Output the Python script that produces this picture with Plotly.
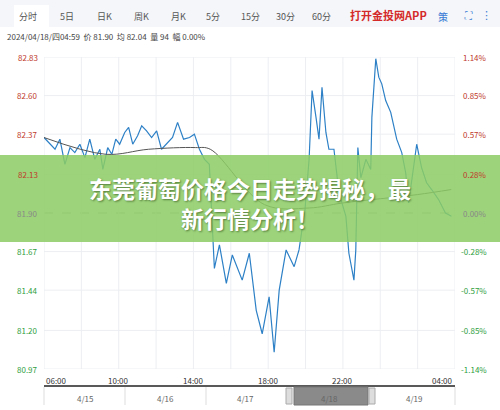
import plotly.graph_objects as go

hours = [0,0.32,0.59,0.85,1.12,1.39,1.65,1.92,2.19,2.45,2.72,2.99,3.15,3.41,3.63,3.84,4.05,4.32,4.53,4.75,5.01,5.23,5.49,5.76,6.03,6.29,6.61,6.88,7.15,7.47,7.79,8.05,8.32,8.59,8.85,8.96,9.12,9.39,9.76,10.08,10.61,10.99,11.36,11.68,12.05,12.32,12.59,12.96,13.39,13.65,13.97,14.19,14.35,14.56,14.72,14.88,15.09,15.25,15.52,15.79,16.16,16.32,16.59,16.69,16.80,16.96,17.23,17.49,17.55,17.76,17.92,18.08,18.29,18.56,18.72,18.88,19.15,19.36,19.52,19.68,19.95,20.21,20.48,20.75,21.12,21.49,21.81]
price = [82.35,82.31,82.28,82.34,82.19,82.29,82.26,82.31,82.23,82.34,82.22,82.28,82.16,82.29,82.25,82.34,82.31,82.38,82.41,82.31,82.36,82.42,82.39,82.35,82.39,82.28,82.32,82.35,82.44,82.34,82.35,82.37,82.28,82.22,82.19,81.95,81.57,81.71,81.48,81.65,81.50,81.66,81.32,81.18,81.40,81.07,81.44,81.68,81.58,81.68,81.92,82.22,82.63,82.47,82.34,82.65,82.38,82.28,82.28,82.02,81.88,81.66,81.50,81.68,82.29,82.11,82.22,82.16,82.47,82.82,82.71,82.67,82.57,82.50,82.41,82.34,82.26,82.14,81.96,82.08,82.31,82.17,82.08,82.04,81.98,81.90,81.88]
avg_hours = [0,3.3,5.6,8.1,8.9,11.8,14.2,16.0,20.0,21.8]
avg_price = [82.35,82.25,82.28,82.29,82.28,81.95,81.93,81.96,82.01,82.04]
y_ticks = [82.83,82.60,82.37,82.13,81.90,81.67,81.44,81.20,80.97]
pct_ticks = ["1.14%","0.85%","0.57%","0.28%","0.00%","-0.28%","-0.57%","-0.85%","-1.14%"]
x_ticks = [0,4,8,12,16,22]
x_labels = ["06:00","10:00","14:00","18:00","22:00","04:00"]
days = ["4/15","4/16","4/17","4/18","4/19"]
tabs = ["分时","5日","日K","周K","月K","5分","15分","30分","60分"]
base = 81.90

W,H = 500,410
L,R,T,B = 44,455,57,369
def px(x): return (x-L)/(R-L)
def py(y): return (B-y)/(B-T)

fig = go.Figure()
fig.add_trace(go.Scatter(x=hours,y=price,mode="lines",line=dict(color="#2d80c6",width=1.2),hoverinfo="skip"))
fig.add_trace(go.Scatter(x=avg_hours,y=avg_price,mode="lines",line=dict(color="#555",width=1),line_shape="spline",hoverinfo="skip"))

shapes=[]; ann=[]
F="Noto Sans CJK SC"
def A(x,y,text,size,color,xa="center",xref="paper",yref="paper",fam=F):
    ann.append(dict(xref=xref,yref=yref,x=x,y=y,text=text,showarrow=False,xanchor=xa,yanchor="middle",
                    font=dict(size=size,color=color,family=fam)))
for i,v in enumerate(y_ticks):
    col = "#c0392b" if v>base else ("#2e9e3e" if v<base else "#888")
    shapes.append(dict(type="line",xref="paper",yref="y",x0=0,x1=1,y0=v,y1=v,
                       line=dict(color="#bbb" if v==base else "#eceef2",width=1,dash="dash" if v==base else "solid"),layer="below"))
    A(px(40),v,f"{v:.2f}",8,col,"right",yref="y")
    A(px(489),v,pct_ticks[i],8,col,"right",yref="y")
for h in range(0,23,2):
    shapes.append(dict(type="line",xref="x",yref="paper",x0=h,x1=h,y0=0,y1=1,line=dict(color="#eceef2",width=1),layer="below"))
for h,lab in zip(x_ticks,x_labels):
    xa = "left" if h==0 else ("right" if h==22 else "center")
    A(h,py(380),lab,8,"#333",xa,xref="x")
# navigator
shapes.append(dict(type="line",xref="paper",yref="paper",x0=0,x1=1,y0=py(386),y1=py(386),line=dict(color="#222",width=1.5)))
shapes.append(dict(type="rect",xref="paper",yref="paper",x0=px(294),x1=px(368),y0=py(405),y1=py(387),fillcolor="#8a8a8a",line=dict(color="#777",width=1)))
for xx in [289,372]:
    shapes.append(dict(type="rect",xref="paper",yref="paper",x0=px(xx-3),x1=px(xx+3),y0=py(404),y1=py(388),fillcolor="#ddd",line=dict(color="#aaa",width=1)))
for xx in [44,125,206,455]:
    shapes.append(dict(type="line",xref="paper",yref="paper",x0=px(xx),x1=px(xx),y0=py(405),y1=py(387),line=dict(color="#ddd",width=1)))
for xx,d in zip([85,165,245,329,414],days):
    A(px(xx),py(398),d,8,"#666")
# top tabs
shapes.append(dict(type="rect",xref="paper",yref="paper",x0=px(0),x1=px(500),y0=py(27),y1=py(0),fillcolor="#f4f6f9",line=dict(width=0),layer="below"))
shapes.append(dict(type="rect",xref="paper",yref="paper",x0=px(14),x1=px(49),y0=py(27),y1=py(5),fillcolor="#ffffff",line=dict(width=0),layer="below"))
for xx,t in zip([28,67,104,141,178,213,250,285,321],tabs):
    A(px(xx),py(16),t,9,"#555")
A(px(388),py(15),"<b>打开金投网APP</b>",11,"#d42a2a")
A(px(443),py(16),"策",10,"#3a7bd5")
A(px(468),py(15),"⛶",10,"#3a7bd5",fam="DejaVu Sans")
A(px(487),py(15),"⋮",11,"#3a7bd5",fam="DejaVu Sans")
A(px(5),py(36),"2024/04/18/四04:59  价 81.90  均 82.04  量 94  幅 0.00%",8,"#444","left")
# banner
shapes.append(dict(type="rect",xref="paper",yref="paper",x0=px(0),x1=px(500),y0=py(242),y1=py(155),fillcolor="rgba(140,205,100,0.85)",line=dict(width=0)))
A(px(250),py(203),"<b>东莞葡萄价格今日走势揭秘，最<br>新行情分析！</b>",23,"white")
ann[-1]["font"]["shadow"]="1px 1px 2px rgba(40,70,20,0.6)"

fig.update_layout(width=W,height=H,margin=dict(l=L,r=W-R,t=T,b=H-B),plot_bgcolor="white",paper_bgcolor="white",
    showlegend=False,shapes=shapes,annotations=ann,
    xaxis=dict(range=[0,22],showgrid=False,showticklabels=False,zeroline=False,fixedrange=True),
    yaxis=dict(range=[80.97,82.83],showgrid=False,showticklabels=False,zeroline=False,fixedrange=True))
fig.write_html("out.html",config={"displayModeBar":False},post_script="document.body.style.margin='0';")
